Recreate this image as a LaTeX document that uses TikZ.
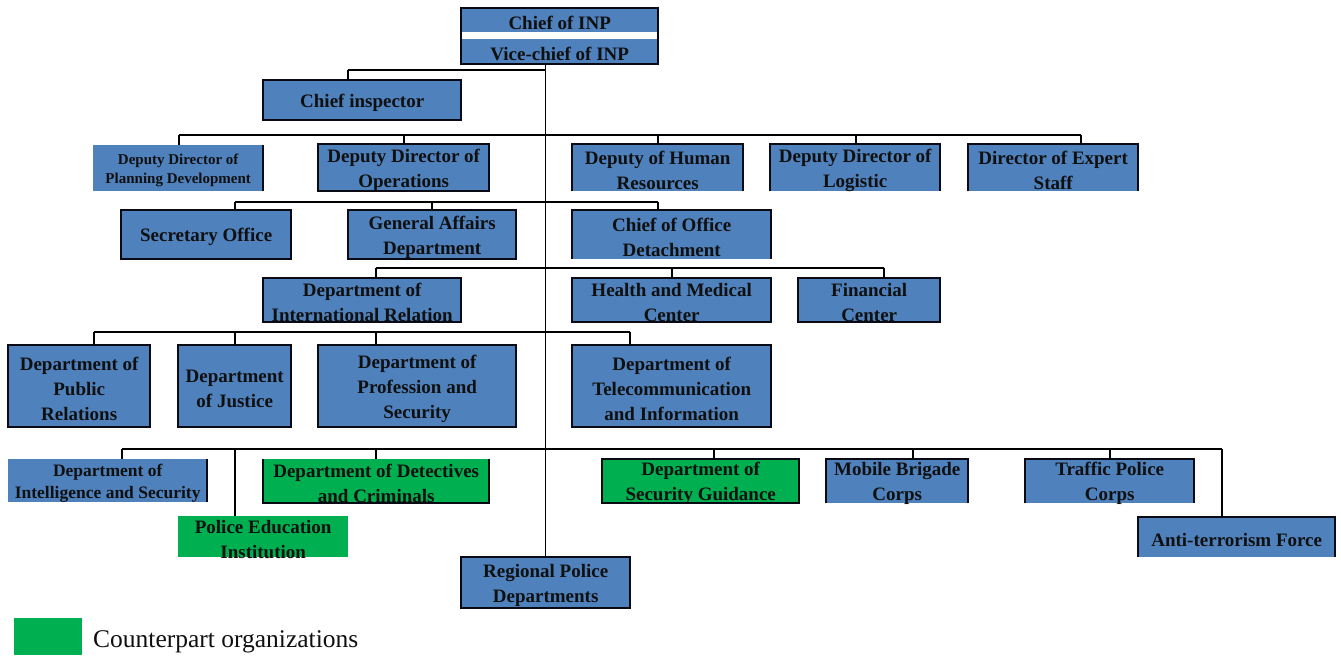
\documentclass[tikz,border=0pt]{standalone}
\usepackage{fontspec}
\setmainfont{Liberation Serif}
\definecolor{nodeblue}{HTML}{4F81BD}
\definecolor{cpgreen}{HTML}{00B050}
\definecolor{bordc}{HTML}{0A0A14}
\definecolor{txt}{HTML}{101010}
\newcommand\bx[8]{\node[box,minimum width=#4pt,minimum height=#5pt,#6] (#1) at (#2,#3) {};
  \node[boxtext,#7] (#1t) at ([yshift=-2.5pt]#1.center) {#8};}
\newcommand\drop[3]{\coordinate (dtmp) at (#2,#3); \draw[conn] (#1.north -| dtmp) -- (dtmp);}
\newcommand\fullb[1]{\draw[bord] (#1.north west) rectangle (#1.south east);}
\newcommand\openbot[1]{\draw[bord] (#1.south west) |- (#1.north east) -- (#1.south east);}
\newcommand\opentop[1]{\draw[bord] (#1.north west) |- (#1.south east) -- (#1.north east);}
\newcommand\rightb[1]{\draw[bord] (#1.north east) -- (#1.south east);}
\begin{document}
\begin{tikzpicture}[x=1pt,y=-1pt,
  box/.style={fill=nodeblue, inner sep=0pt, anchor=north west},
  boxtext/.style={inner sep=0pt, align=center, text=txt,
    font=\bfseries\fontsize{19}{25}\selectfont},
  greenbox/.style={fill=cpgreen},
  bord/.style={draw=bordc, line width=2pt},
  conn/.style={draw=black, line width=1.3pt}]
\useasboundingbox (0,0) rectangle (1341,656);
\fill[white] (0,0) rectangle (1341,656);

% row junction coordinates
\coordinate (r0L) at (348,70); \coordinate (r0R) at (545,70);
\coordinate (r1L) at (179,135); \coordinate (r1R) at (1081,135);
\coordinate (r2L) at (235,202); \coordinate (r2R) at (658,202);
\coordinate (r3L) at (376,268); \coordinate (r3R) at (884,268);
\coordinate (r4L) at (94,332); \coordinate (r4R) at (630,332);
\coordinate (r5L) at (122,449); \coordinate (r5R) at (1222,449);

% boxes
\bx{chief}{461}{8}{197}{24}{}{}{Chief of INP}
\bx{vice}{461}{39}{197}{25}{}{}{Vice-chief of INP}
\bx{ci}{263}{80}{198}{40}{}{}{Chief inspector}
\bx{pdp}{93}{145}{170}{46}{}{font=\bfseries\fontsize{15}{19}\selectfont}{Deputy Director of\\Planning Development}
\bx{ops}{318}{144}{171}{47}{}{}{Deputy Director of\\Operations}
\bx{hr}{572}{144}{171}{47}{}{}{Deputy of Human\\Resources}
\bx{log}{770}{144}{170}{47}{}{}{Deputy Director of\\Logistic}
\bx{exp}{968}{144}{170}{47}{}{}{Director of Expert\\Staff}
\bx{sec}{121}{210}{170}{49}{}{}{Secretary Office}
\bx{gad}{348}{210}{168}{49}{}{}{General Affairs\\Department}
\bx{cod}{572}{210}{199}{49}{}{}{Chief of Office\\Detachment}
\bx{intl}{263}{278}{198}{44}{}{}{Department of\\International Relation}
\bx{hmc}{572}{278}{199}{44}{}{}{Health and Medical\\Center}
\bx{fin}{798}{278}{142}{44}{}{}{Financial\\Center}
\bx{pub}{8}{345}{142}{82}{}{}{Department of\\Public\\Relations}
\bx{jus}{178}{345}{113}{82}{}{}{Department\\of Justice}
\bx{prof}{318}{345}{198}{82}{}{}{Department of\\Profession and\\Security}
\bx{tel}{572}{345}{199}{82}{}{}{Department of\\Telecommunication\\and Information}
\bx{ints}{8}{459}{199}{43}{}{font=\bfseries\fontsize{17.5}{22}\selectfont}{Department of\\Intelligence and Security}
\bx{det}{263}{459}{226}{44}{greenbox}{}{Department of Detectives\\and Criminals}
\bx{pei}{178}{516}{170}{41}{greenbox}{}{Police Education\\Institution}
\bx{sg}{602}{459}{197}{44}{greenbox}{}{Department of\\Security Guidance}
\bx{mob}{826}{459}{142}{44}{}{}{Mobile Brigade\\Corps}
\bx{tra}{1025}{459}{169}{44}{}{}{Traffic Police\\Corps}
\bx{ati}{1138}{517}{197}{40}{}{}{Anti-terrorism Force}
\bx{reg}{461}{557}{169}{51}{}{}{Regional Police\\Departments}

% borders
\draw[bord] (chief.north west) rectangle (vice.south east);
\fullb{ci}
\rightb{pdp}
\fullb{ops}
\openbot{hr}
\openbot{log}
\openbot{exp}
\fullb{sec}
\fullb{gad}
\openbot{cod}
\fullb{intl}
\fullb{hmc}
\fullb{fin}
\fullb{pub}
\fullb{jus}
\fullb{prof}
\fullb{tel}
\rightb{ints}
\opentop{det}
\fullb{sg}
\openbot{mob}
\openbot{tra}
\openbot{ati}
\fullb{reg}

% trunk and rows
\draw[conn] (vice.south -| reg.north) -- (reg.north);
\draw[conn] (r0L) -- (r0R);
\draw[conn] (r1L) -- (r1R);
\draw[conn] (r2L) -- (r2R);
\draw[conn] (r3L) -- (r3R);
\draw[conn] (r4L) -- (r4R);
\draw[conn] (r5L) -- (r5R);

\drop{ci}{348}{70}
\drop{pdp}{179}{135}
\drop{ops}{404}{135}
\drop{hr}{658}{135}
\drop{log}{856}{135}
\drop{exp}{1081}{135}
\drop{sec}{235}{202}
\drop{gad}{432}{202}
\drop{cod}{658}{202}
\drop{intl}{376}{268}
\drop{hmc}{672}{268}
\drop{fin}{884}{268}
\drop{pub}{94}{332}
\drop{jus}{235}{332}
\drop{prof}{376}{332}
\drop{tel}{630}{332}
\drop{ints}{122}{449}
\drop{pei}{235}{449}
\drop{det}{376}{449}
\drop{sg}{714}{449}
\drop{mob}{913}{449}
\drop{tra}{1110}{449}
\drop{ati}{1222}{449}

% legend
\node[fill=cpgreen, minimum width=68pt, minimum height=37pt, inner sep=0pt, anchor=north west] (legbox) at (14,618) {};
\node[anchor=west, inner sep=0pt, text=txt, font=\fontsize{25.5}{29}\selectfont] (legtext) at (93,642) {Counterpart organizations};
\end{tikzpicture}
\end{document}
